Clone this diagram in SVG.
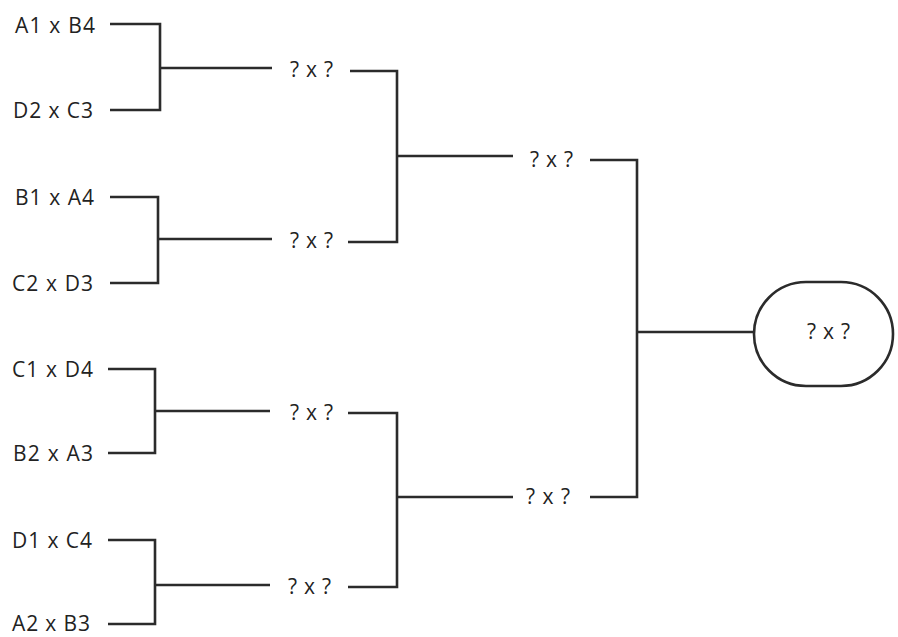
<svg xmlns="http://www.w3.org/2000/svg" width="898" height="637" viewBox="0 0 898 637">
<style>
.c{fill:none;stroke:#2b2b2b;stroke-width:2.6;stroke-linecap:butt;stroke-linejoin:miter}
.t{font-family:"Open Sans","Noto Sans",sans-serif;font-size:21px;fill:#222}
.m{font-family:"Open Sans","Noto Sans",sans-serif;font-size:21px;fill:#222}
.o{fill:#fff;stroke:#2b2b2b;stroke-width:2.6}
</style>
<rect width="898" height="637" fill="#fff"/>
<g id="connectors">
<path class="c" d="M110 24H160V110H110M160 68H272"/>
<path class="c" d="M110 197H158V283H110M158 239H272"/>
<path class="c" d="M108 369H155V453H108M155 411H270"/>
<path class="c" d="M108 540H155V624H108M155 585H270"/>
<path class="c" d="M350 71H397V242H348M397 156H513"/>
<path class="c" d="M348 413H397V587H348M397 497H513"/>
<path class="c" d="M590 160H637V497H590M637 332H754"/>
</g>
<g id="r1-1"><text class="t" x="15" y="33" textLength="80" lengthAdjust="spacing">A1 x B4</text></g>
<g id="r1-2"><text class="t" x="13" y="118" textLength="80" lengthAdjust="spacing">D2 x C3</text></g>
<g id="r1-3"><text class="t" x="15" y="205" textLength="79" lengthAdjust="spacing">B1 x A4</text></g>
<g id="r1-4"><text class="t" x="12" y="291" textLength="81" lengthAdjust="spacing">C2 x D3</text></g>
<g id="r1-5"><text class="t" x="12" y="377" textLength="81" lengthAdjust="spacing">C1 x D4</text></g>
<g id="r1-6"><text class="t" x="13" y="461" textLength="80" lengthAdjust="spacing">B2 x A3</text></g>
<g id="r1-7"><text class="t" x="12" y="548" textLength="80" lengthAdjust="spacing">D1 x C4</text></g>
<g id="r1-8"><text class="t" x="12" y="631" textLength="78" lengthAdjust="spacing">A2 x B3</text></g>
<g id="qf1"><text class="m" x="290" y="77" textLength="43" lengthAdjust="spacing">? x ?</text></g>
<g id="qf2"><text class="m" x="290" y="248" textLength="43" lengthAdjust="spacing">? x ?</text></g>
<g id="qf3"><text class="m" x="290" y="420" textLength="43" lengthAdjust="spacing">? x ?</text></g>
<g id="qf4"><text class="m" x="288" y="594" textLength="43" lengthAdjust="spacing">? x ?</text></g>
<g id="sf1"><text class="m" x="530" y="167" textLength="43" lengthAdjust="spacing">? x ?</text></g>
<g id="sf2"><text class="m" x="526" y="504" textLength="44" lengthAdjust="spacing">? x ?</text></g>
<g id="final">
<rect class="o" x="754" y="282" width="139" height="104" rx="52" ry="52"/>
<text class="m" x="807" y="339" textLength="43" lengthAdjust="spacing">? x ?</text>
</g>
</svg>
